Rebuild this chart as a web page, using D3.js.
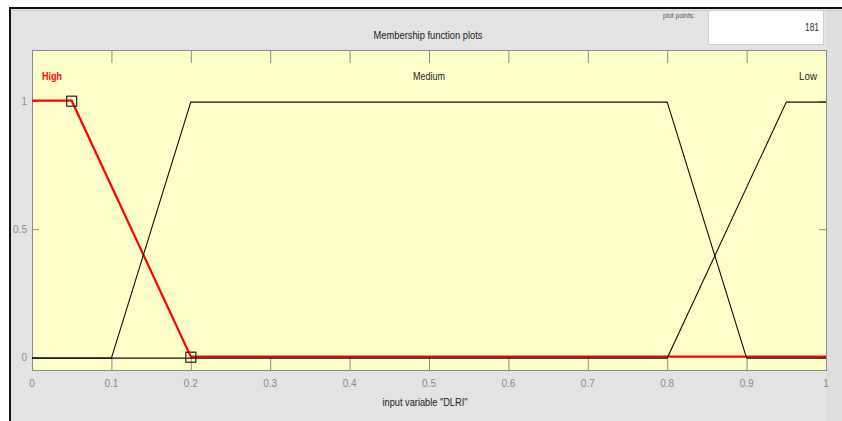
<!DOCTYPE html>
<html>
<head>
<meta charset="utf-8">
<script src="https://cdn.jsdelivr.net/npm/d3@7"></script>
<style>
  html, body { margin: 0; padding: 0; background: #ffffff; }
  svg { display: block; font-family: "Liberation Sans", Arial, sans-serif; }
</style>
</head>
<body>
<svg id="chart" width="842" height="421"></svg>
<script>
// Membership functions of the input variable "DLRI" (trapezoidal breakpoints)
const mfNames = ["High", "Medium", "Low"];
const highX = [0, 0.05, 0.2, 1];
const highY = [1, 1, 0, 0];
const mediumX = [0, 0.1, 0.2, 0.8, 0.9, 1];
const mediumY = [0, 0, 1, 1, 0, 0];
const lowX = [0, 0.8, 0.95, 1];
const lowY = [0, 0, 1, 1];
// Highlighted (selected) membership function handles
const handleX = [0.05, 0.2];
const handleY = [1, 0];
// Axis ticks
const xTicks = [0, 0.1, 0.2, 0.3, 0.4, 0.5, 0.6, 0.7, 0.8, 0.9, 1];
const yTicks = [0, 0.5, 1];
const xDomain = [0, 1];
const yDomain = [-0.05, 1.2];
const plotPoints = 181;
const titleText = "Membership function plots";
const xLabelText = 'input variable "DLRI"';
const plotPointsLabel = "plot points:";

const svg = d3.select("#chart");
const W = 842, H = 421;
const panelGray = "#e3e3e3";
const plotYellow = "#ffffcc";
const tickGray = "#8c8c8c";

// window panel
svg.append("rect").attr("x", 10).attr("y", 8).attr("width", W - 10).attr("height", H)
  .attr("fill", panelGray);
svg.append("rect").attr("x", 826).attr("y", 10).attr("width", 16).attr("height", H)
  .attr("fill", "#dedede");
svg.append("line").attr("x1", 10).attr("x2", W).attr("y1", 8).attr("y2", 8)
  .attr("stroke", "#111").attr("stroke-width", 2);
svg.append("line").attr("x1", 10).attr("x2", 10).attr("y1", 7).attr("y2", H)
  .attr("stroke", "#111").attr("stroke-width", 2);
svg.append("line").attr("x1", 11).attr("x2", W).attr("y1", 10.5).attr("y2", 10.5)
  .attr("stroke", "#cfcfcf").attr("stroke-width", 1);

// plot points entry box
svg.append("rect").attr("x", 708.5).attr("y", 10.5).attr("width", 115).attr("height", 34)
  .attr("fill", "#ffffff").attr("stroke", "#d0d0d0");
svg.append("text").attr("x", 819).attr("y", 31).attr("text-anchor", "end")
  .attr("font-size", 11).attr("fill", "#333")
  .attr("textLength", 14).attr("lengthAdjust", "spacingAndGlyphs")
  .text(plotPoints);
svg.append("text").attr("x", 663).attr("y", 18)
  .attr("font-size", 8).attr("fill", "#555")
  .attr("textLength", 32).attr("lengthAdjust", "spacingAndGlyphs")
  .text(plotPointsLabel);

// plot area
const plotLeft = 32, plotRight = 826, plotTop = 50, plotBottom = 370;
const x = d3.scaleLinear().domain(xDomain).range([plotLeft, plotRight]);
const y = d3.scaleLinear().domain(yDomain).range([plotBottom, plotTop]);

svg.append("rect").attr("x", plotLeft).attr("y", plotTop)
  .attr("width", plotRight - plotLeft).attr("height", plotBottom - plotTop)
  .attr("fill", plotYellow);

// title
svg.append("text").attr("x", 428).attr("y", 39).attr("text-anchor", "middle")
  .attr("font-size", 11).attr("fill", "#222")
  .attr("textLength", 109).attr("lengthAdjust", "spacingAndGlyphs")
  .text(titleText);

// axes: ticks pointing inward on all four sides
const tickLen = 13, yTickLen = 7;
const xAxisBottom = d3.axisTop(x).tickValues(xTicks).tickSize(tickLen).tickFormat("");
const xAxisTop = d3.axisBottom(x).tickValues(xTicks).tickSize(tickLen).tickFormat("");
const yAxisLeft = d3.axisRight(y).tickValues(yTicks).tickSize(yTickLen).tickFormat("");
const yAxisRight = d3.axisLeft(y).tickValues(yTicks).tickSize(yTickLen).tickFormat("");

function styleAxis(g) {
  g.selectAll("path").attr("stroke", tickGray);
  g.selectAll("line").attr("stroke", tickGray);
}
svg.append("g").attr("transform", `translate(0,${plotBottom})`).call(xAxisBottom).call(styleAxis);
svg.append("g").attr("transform", `translate(0,${plotTop})`).call(xAxisTop).call(styleAxis);
svg.append("g").attr("transform", `translate(${plotLeft},0)`).call(yAxisLeft).call(styleAxis);
svg.append("g").attr("transform", `translate(${plotRight},0)`).call(yAxisRight).call(styleAxis);

// tick labels
svg.append("g").selectAll("text").data(xTicks).join("text")
  .attr("x", d => x(d)).attr("y", 387).attr("text-anchor", "middle")
  .attr("font-size", 10).attr("fill", tickGray)
  .text(d => d3.format("~g")(d));
svg.append("g").selectAll("text").data(yTicks).join("text")
  .attr("x", 27).attr("y", d => y(d) + 4).attr("text-anchor", "end")
  .attr("font-size", 10).attr("fill", tickGray)
  .text(d => d3.format("~g")(d));

// x label
svg.append("text").attr("x", 425).attr("y", 406).attr("text-anchor", "middle")
  .attr("font-size", 11).attr("fill", "#222")
  .attr("textLength", 85).attr("lengthAdjust", "spacingAndGlyphs")
  .text(xLabelText);

// membership function curves: the selected one (High) in red, the others in black
const line = d3.line().x(d => x(d[0])).y(d => y(d[1]));
const g = svg.append("g");
g.append("path").datum(d3.zip(highX, highY)).attr("d", line)
  .attr("fill", "none").attr("stroke", "#ff0000").attr("stroke-width", 2.2)
  .attr("transform", "translate(0,-0.5)");
g.append("path").datum(d3.zip(mediumX, mediumY)).attr("d", line)
  .attr("fill", "none").attr("stroke", "#111").attr("stroke-width", 1.1)
  .attr("transform", "translate(0,0.9)");
g.append("path").datum(d3.zip(lowX, lowY)).attr("d", line)
  .attr("fill", "none").attr("stroke", "#111").attr("stroke-width", 1.1)
  .attr("transform", "translate(0,0.9)");

// selection handles on High
const hs = 10;
g.selectAll("rect.handle").data(d3.zip(handleX, handleY)).join("rect")
  .attr("class", "handle")
  .attr("x", d => x(d[0]) - hs / 2).attr("y", d => y(d[1]) - hs / 2)
  .attr("width", hs).attr("height", hs)
  .attr("fill", "none").attr("stroke", "#222").attr("stroke-width", 1.2);

// membership function labels
const labelX = [0.025, 0.5, 0.98];
const labelW = [20, 32, 18];
svg.append("g").selectAll("text").data(mfNames).join("text")
  .attr("x", (d, i) => i === 0 ? 42 : i === 2 ? 817 : x(labelX[i]))
  .attr("y", 80)
  .attr("text-anchor", (d, i) => i === 0 ? "start" : i === 2 ? "end" : "middle")
  .attr("font-size", 11)
  .attr("font-weight", (d, i) => i === 0 ? "bold" : "normal")
  .attr("fill", (d, i) => i === 0 ? "#ff0000" : "#222")
  .attr("textLength", (d, i) => labelW[i]).attr("lengthAdjust", "spacingAndGlyphs")
  .text(d => d);
</script>
</body>
</html>
